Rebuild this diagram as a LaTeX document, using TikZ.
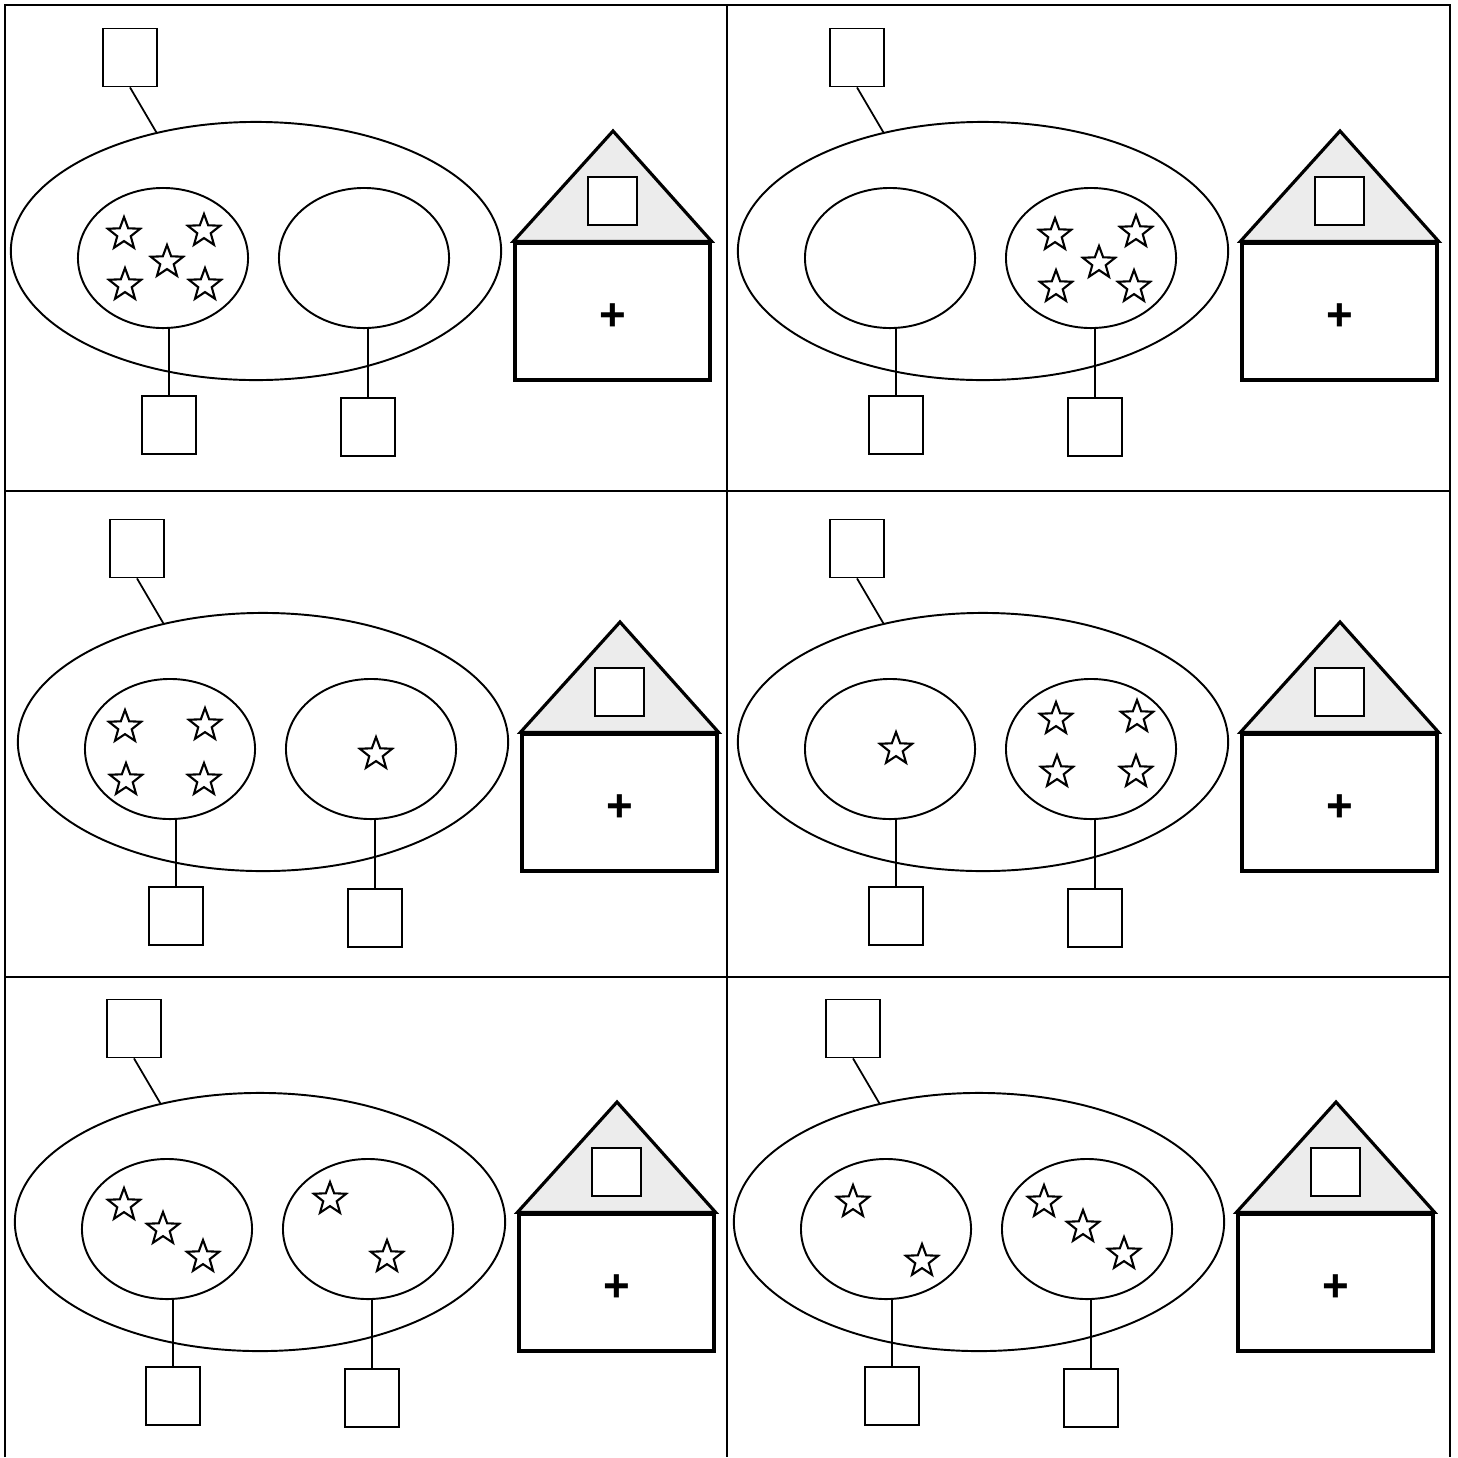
\documentclass[tikz,border=0pt]{standalone}
\usepackage{fontspec}
\newfontfamily\plusfont{Liberation Sans}
\usetikzlibrary{shapes.geometric, positioning}

\tikzset{
	bigoval/.style={
			shape=ellipse,
			draw=black,
			line width=0.55pt,
			minimum width=49mm,
			minimum height=25.8mm,
			inner sep=0pt
		},
	partoval/.style={
			bigoval,
			minimum width=17mm,
			minimum height=14mm
		},
	numbox/.style={
			shape=rectangle,
			draw=black,
			fill=white,
			line width=0.5pt,
			minimum width=5.4mm,
			minimum height=5.8mm,
			inner sep=0pt
		},
	housebody/.style={
			shape=rectangle,
			draw=black,
			line width=0.9pt,
			minimum width=19.5mm,
			minimum height=13.7mm,
			inner sep=0pt,
			text height=3.7mm,
			text depth=0pt,
			font=\plusfont\bfseries\fontsize{13}{15}\selectfont
		},
	roof/.style={
			draw=black,
			fill=gray!15,
			line width=0.9pt,
			line join=miter
		},
	starmark/.style={
			star,
			star points=5,
			star point ratio=2.4,
			draw=black,
			line width=0.6pt,
			minimum size=3.4mm,
			inner sep=0pt
		},
	gridline/.style={
			line width=0.6pt
		}
}

% one cell: name prefix, x shift, y shift
\newcommand{\housecell}[3]{%
  \begin{scope}[shift={(#2,#3)}]
    \node[bigoval] (#1all) at (256,251) {};
    \node[partoval] (#1a) at (163,258) {};
    \node[partoval] (#1b) at (364,258) {};
    \node[numbox] (#1top) at (130,57.5) {};
    \node[numbox] (#1na) at (169,425) {};
    \node[numbox] (#1nb) at (368,427) {};
    \draw[line width=0.5pt] (#1top.south) -- (#1all.130);
    \draw[line width=0.5pt] (#1a.south -| #1na.north) -- (#1na.north);
    \draw[line width=0.5pt] (#1b.south -| #1nb.north) -- (#1nb.north);
    \node[housebody] (#1body) at (612.5,311.5) {+};
    \coordinate (#1apex) at (613,131);
    \filldraw[roof] (#1body.north west) -- (#1apex) -- (#1body.north east) -- cycle;
    \node[numbox, minimum width=4.9mm, minimum height=4.8mm] (#1win) at (612.5,201) {};
  \end{scope}}

\begin{document}
\begin{tikzpicture}[x=0.01cm, y=-0.01cm]

  \useasboundingbox (0,0) rectangle (1458,1457);

  % table
  \draw[gridline] (5,1457) -- (5,5) -- (1450,5) -- (1450,1457);
  \draw[gridline] (727,5) -- (727,1457);
  \draw[gridline] (5,491) -- (1450,491);
  \draw[gridline] (5,977) -- (1450,977);

  \housecell{c1}{0}{0}
  \housecell{c2}{727}{0}
  \housecell{c3}{7}{491}
  \housecell{c4}{727}{491}
  \housecell{c5}{4}{971}
  \housecell{c6}{723}{971}

  % stars
  \node[starmark] (c1s1) at (124,234) {};
  \node[starmark] (c1s2) at (204,231) {};
  \node[starmark] (c1s3) at (167,262) {};
  \node[starmark] (c1s4) at (125,285) {};
  \node[starmark] (c1s5) at (205,285) {};

  \node[starmark] (c2s1) at (1055,235) {};
  \node[starmark] (c2s2) at (1136,232) {};
  \node[starmark] (c2s3) at (1099,263) {};
  \node[starmark] (c2s4) at (1056,287) {};
  \node[starmark] (c2s5) at (1134,287) {};

  \node[starmark] (c3s1) at (125,727) {};
  \node[starmark] (c3s2) at (205,725) {};
  \node[starmark] (c3s3) at (126,780) {};
  \node[starmark] (c3s4) at (204,780) {};
  \node[starmark] (c3s5) at (376,754) {};

  \node[starmark] (c4s1) at (896,749) {};
  \node[starmark] (c4s2) at (1056,719) {};
  \node[starmark] (c4s3) at (1137,717) {};
  \node[starmark] (c4s4) at (1057,772) {};
  \node[starmark] (c4s5) at (1136,772) {};

  \node[starmark] (c5s1) at (124,1205) {};
  \node[starmark] (c5s2) at (163,1229) {};
  \node[starmark] (c5s3) at (203,1257) {};
  \node[starmark] (c5s4) at (330,1199) {};
  \node[starmark] (c5s5) at (387,1257) {};

  \node[starmark] (c6s1) at (853,1202) {};
  \node[starmark] (c6s2) at (922,1261) {};
  \node[starmark] (c6s3) at (1044,1202) {};
  \node[starmark] (c6s4) at (1083,1227) {};
  \node[starmark] (c6s5) at (1124,1254) {};

\end{tikzpicture}
\end{document}
